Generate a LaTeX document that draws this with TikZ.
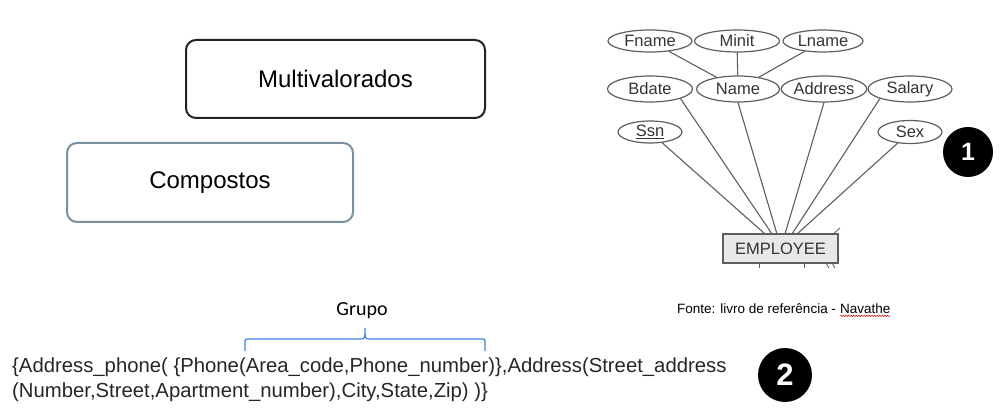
\documentclass[tikz,border=0pt]{standalone}
\usepackage{fontspec}
\setmainfont{Liberation Sans}
\newfontfamily\calibrifont{Carlito}
\usetikzlibrary{shapes.geometric,decorations.pathmorphing}
\definecolor{boxdark}{HTML}{232323}
\definecolor{boxgrey}{HTML}{7A909E}
\definecolor{erline}{HTML}{5E5E5E}
\definecolor{ertext}{HTML}{333333}
\definecolor{bracecol}{HTML}{3D7FE0}
\definecolor{txtcol}{HTML}{262626}
\tikzset{
  roundbox/.style={rectangle, rounded corners=10pt, line width=2pt, inner sep=0pt, font=\fontsize{24}{28}\selectfont},
  attr/.style={ellipse, draw=erline, line width=1.2pt, inner sep=0pt, text=ertext, font=\fontsize{16.5}{19}\selectfont},
  link/.style={draw=erline, line width=1.1pt},
  entity/.style={rectangle, draw=erline, fill=black!9, line width=1.2pt, inner sep=0pt, minimum width=115pt, minimum height=29pt, text=ertext, font=\fontsize{16.5}{19}\selectfont},
  badge/.style={circle, fill=black, text=white, inner sep=0pt, font=\bfseries},
  codeline/.style={anchor=base west, inner sep=0pt, text=txtcol, font=\fontsize{20.3}{25}\selectfont}
}
\begin{document}
\begin{tikzpicture}[x=1pt,y=-1pt]
\useasboundingbox (0,0) rectangle (1005,411);
% left boxes
\node[roundbox, draw=boxdark, minimum width=299pt, minimum height=78pt] (multi) at (335.5,79) {Multivalorados};
\node[roundbox, draw=boxgrey, minimum width=286pt, minimum height=79pt] (comp) at (210,182.5) {Compostos};
% ER attributes
\node[attr, minimum width=84pt, minimum height=22pt] (fname) at (650,41) {Fname};
\node[attr, minimum width=85pt, minimum height=22pt] (minit) at (737,41) {Minit};
\node[attr, minimum width=80pt, minimum height=22pt] (lname) at (823,41) {Lname};
\node[attr, minimum width=85pt, minimum height=26pt] (bdate) at (650,89) {Bdate};
\node[attr, minimum width=83pt, minimum height=26pt] (name) at (738,89) {Name};
\node[attr, minimum width=82pt, minimum height=26pt] (address) at (824,89) {Address};
\node[attr, minimum width=84pt, minimum height=26pt] (salary) at (910,89) {Salary};
\node[attr, minimum width=64pt, minimum height=22pt] (ssn) at (650,132) {\underline{Ssn}};
\node[attr, minimum width=64pt, minimum height=23pt] (sex) at (910,132) {Sex};
\node[entity] (emp) at (780.5,248.5) {EMPLOYEE};
% attachment points on EMPLOYEE
\coordinate (e1) at (765,234);
\coordinate (e2) at (772,234);
\coordinate (e3) at (777,234);
\coordinate (e4) at (785,234);
\coordinate (e5) at (792,234);
\coordinate (e6) at (797,234);
\draw[link] (fname) -- (name);
\draw[link] (minit) -- (name);
\draw[link] (lname) -- (name);
\draw[link] (ssn) -- (e1);
\draw[link] (bdate.south east) -- (e2);
\draw[link] (name.south) -- (e3);
\draw[link] (address.south) -- (e4);
\draw[link] (salary.south west) -- (e5);
\draw[link] (sex) -- (e6);
% cut-off stubs
\coordinate (s1a) at (759,263); \coordinate (s1b) at (759,268);
\coordinate (s2a) at (804,263); \coordinate (s2b) at (804,268);
\coordinate (s3a) at (826,263); \coordinate (s3b) at (829,268);
\coordinate (s4a) at (832,263); \coordinate (s4b) at (835,268);
\coordinate (s5a) at (832,235); \coordinate (s5b) at (840,228);
\draw[link, line width=0.8pt] (s1a) -- (s1b);
\draw[link, line width=0.8pt] (s2a) -- (s2b);
\draw[link, line width=0.8pt] (s3a) -- (s3b);
\draw[link, line width=0.8pt] (s4a) -- (s4b);
\draw[link, line width=0.8pt] (s5a) -- (s5b);
% badges
\node[badge, minimum size=50pt, font=\bfseries\fontsize{25}{28}\selectfont] (b1) at (968,152) {1};
\node[badge, minimum size=54pt, font=\bfseries\fontsize{31}{36}\selectfont] (b2) at (785,375) {2};
% source
\node[anchor=base west, inner sep=0pt, font=\fontsize{13.5}{16}\selectfont] (fonte) at (677,314) {Fonte: livro de referência -};
\node[anchor=base west, inner sep=0pt, xshift=3.75pt, font=\fontsize{13.5}{16}\selectfont] (navathe) at (fonte.base east) {Navathe};
\draw[red!80!black, line width=0.5pt, decorate, decoration={snake, amplitude=0.7pt, segment length=2.6pt}] ([yshift=-1.5pt]navathe.south west) -- ([yshift=-1.5pt]navathe.south east);
% Grupo brace
\node[inner sep=0pt, font=\calibrifont\fontsize{20}{24}\selectfont] (grupo) at (362,311) {Grupo};
\draw[bracecol, line width=1.2pt] (245,351) -- (245,343) .. controls (245,339) .. (249,339) -- (360,339) .. controls (365,339) .. (365,328) .. controls (365,339) .. (370,339) -- (481,339) .. controls (485,339) .. (485,343) -- (485,351);
% code lines
\node[codeline] (l1) at (12,373) {\{Address\_phone( \{Phone(Area\_code,Phone\_number)\},Address(Street\_address};
\node[codeline] (l2) at (12,398) {(Number,Street,Apartment\_number),City,State,Zip) )\}};
\end{tikzpicture}
\end{document}
